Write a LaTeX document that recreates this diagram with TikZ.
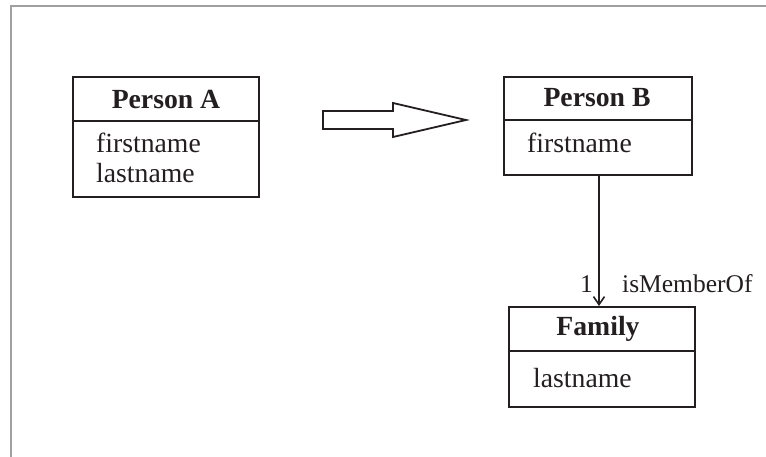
\documentclass[tikz,border=0pt]{standalone}
\usepackage{fontspec}
\setmainfont{Liberation Serif}
\usetikzlibrary{arrows.meta}
\definecolor{ink}{HTML}{231F20}
\definecolor{frame}{HTML}{A0A0A0}
\begin{document}
\begin{tikzpicture}[x=1pt,y=-1pt,
  classbox/.style={draw=ink,line width=2pt,rectangle,inner sep=0pt,anchor=north west},
  divider/.style={draw=ink,line width=2pt},
  title/.style={font=\fontsize{27.7}{30}\selectfont\bfseries,text=ink,inner sep=0pt},
  attr/.style={font=\fontsize{27.7}{30}\selectfont,text=ink,inner sep=0pt,anchor=base west},
  label/.style={font=\fontsize{25.5}{28}\selectfont,text=ink,inner sep=0pt,anchor=base west},
  assoc/.style={draw=ink,line width=1.6pt,-{Straight Barb[length=8pt,width=11pt,line width=1.6pt]}},
  bigarrow/.style={draw=ink,line width=1.8pt,fill=white,line join=miter}]
\useasboundingbox (0,0) rectangle (766,457);
% sheet edges
\draw[frame,line width=2pt] (11,457) -- (11,6) -- (766,6);

% class boxes
\node[classbox,minimum width=186pt,minimum height=120pt] (pa) at (72,76) {};
\node[classbox,minimum width=188pt,minimum height=98pt] (pb) at (503,76) {};
\node[classbox,minimum width=186pt,minimum height=100pt] (fam) at (508,306) {};

% compartment dividers
\draw[divider] (pa.west |- 0,121) -- (pa.east |- 0,121);
\draw[divider] (pb.west |- 0,120) -- (pb.east |- 0,120);
\draw[divider] (fam.west |- 0,351) -- (fam.east |- 0,351);

% titles
\node[title] (pat) at (166,99) {Person A};
\node[title] (pbt) at (597,98) {Person B};
\node[title] (famt) at (598,329) {Family};

% attributes
\node[attr] (pa1) at (96,153) {firstname};
\node[attr] (pa2) at (96,183) {lastname};
\node[attr] (pb1) at (527,153) {firstname};
\node[attr] (fam1) at (533,387) {lastname};

% transformation arrow
\draw[bigarrow] (323,111) -- (393,111) -- (393,103) -- (466,120) -- (393,137) -- (393,129) -- (323,129) -- cycle;

% association
\coordinate (lk) at (599,0);
\draw[assoc] (pb.south -| lk) -- (fam.north -| lk);
\node[label] (mult) at (580,292) {1};
\node[label] (role) at (622,292) {isMemberOf};
\end{tikzpicture}
\end{document}
